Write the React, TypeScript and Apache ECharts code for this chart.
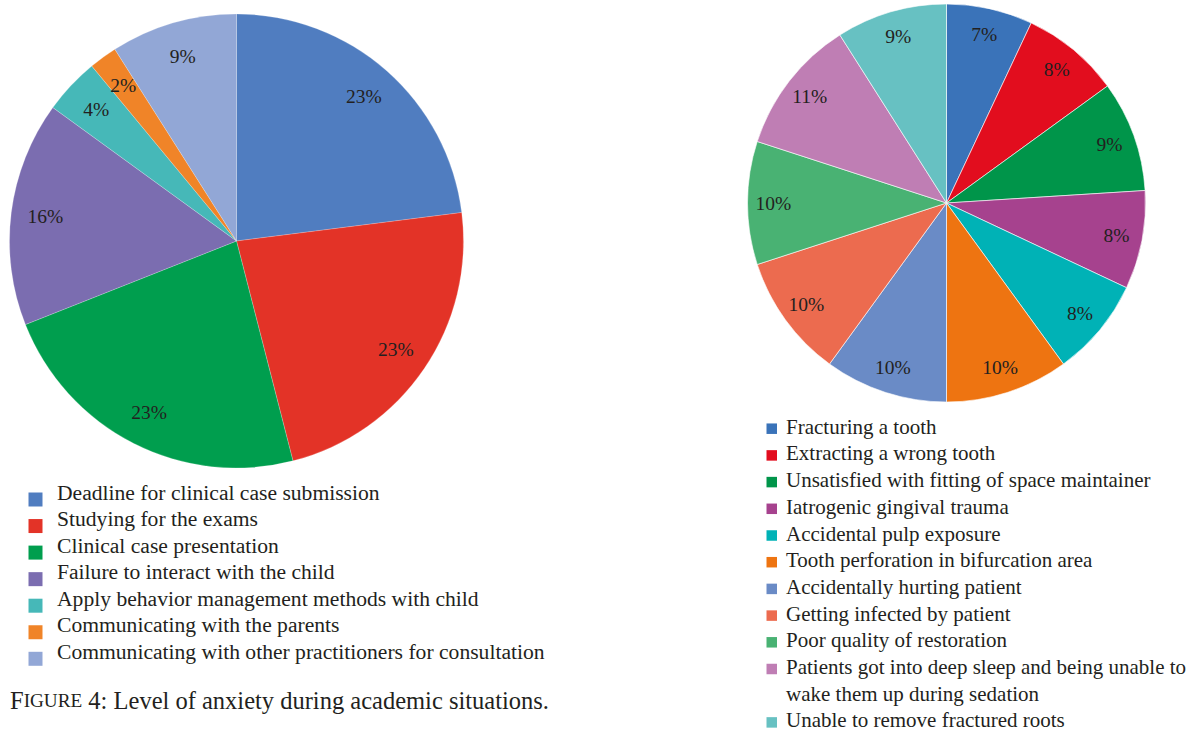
import React, { useEffect, useRef } from "react";
import * as echarts from "echarts";

// Figure 4: academic situations
const academicCategories = [
  "Deadline for clinical case submission",
  "Studying for the exams",
  "Clinical case presentation",
  "Failure to interact with the child",
  "Apply behavior management methods with child",
  "Communicating with the parents",
  "Communicating with other practitioners for consultation",
];
const academicValues = [23, 23, 23, 16, 4, 2, 9];
const academicColors = ["#507dc0", "#e33327", "#009e4e", "#7b6db0", "#46b8b8", "#f08428", "#92a7d6"];

// Clinical situations
const clinicalCategories = [
  "Fracturing a tooth",
  "Extracting a wrong tooth",
  "Unsatisfied with fitting of space maintainer",
  "Iatrogenic gingival trauma",
  "Accidental pulp exposure",
  "Tooth perforation in bifurcation area",
  "Accidentally hurting patient",
  "Getting infected by patient",
  "Poor quality of restoration",
  "Patients got into deep sleep and being unable to\nwake them up during sedation",
  "Unable to remove fractured roots",
];
const clinicalValues = [7, 8, 9, 8, 8, 10, 10, 10, 10, 11, 9];
const clinicalColors = [
  "#3a73b9", "#e20d1e", "#00954a", "#a6428e", "#00b2b6", "#ee7411",
  "#6a8bc6", "#ec6b4f", "#49b273", "#bf7eb4", "#67c1c2",
];

const captionPrefix = "F";
const captionSmallCaps = "IGURE";
const captionRest = " 4: Level of anxiety during academic situations.";

const FONT = '"Liberation Serif", "DejaVu Serif", serif';
const INK = "#231f20";

type LegendLayout = {
  textX: number;
  markerX: number;
  markerSize: number;
  markerDy: number;
  firstY: number;
  step: number;
  fontSize: number;
};

function legendGraphics(names: string[], colors: string[], L: LegendLayout) {
  const out: any[] = [];
  let row = 0;
  names.forEach((name, i) => {
    const lines = name.split("\n").length;
    const cy = L.firstY + row * L.step;
    out.push({
      type: "rect",
      shape: {
        x: L.markerX,
        y: cy + L.markerDy - L.markerSize / 2,
        width: L.markerSize,
        height: L.markerSize,
      },
      style: { fill: colors[i] },
      silent: true,
    });
    out.push({
      type: "text",
      x: L.textX,
      y: cy + ((lines - 1) * L.step) / 2,
      style: {
        text: name,
        fontFamily: FONT,
        fontSize: L.fontSize,
        lineHeight: lines > 1 ? L.step : L.fontSize,
        fill: INK,
        verticalAlign: "middle",
        align: "left",
      },
      silent: true,
    });
    row += lines;
  });
  return out;
}

function pieWithLabels(
  id: string,
  names: string[],
  values: number[],
  colors: string[],
  center: [number, number],
  radius: number,
  labelInner: number,
  border: any
) {
  const data = values.map((v, i) => ({ name: names[i], value: v, itemStyle: { color: colors[i] } }));
  return [
    {
      id: id,
      type: "pie",
      center,
      radius: [0, radius],
      startAngle: 90,
      clockwise: true,
      label: { show: false },
      labelLine: { show: false },
      itemStyle: border,
      emphasis: { disabled: true },
      data,
    },
    {
      // transparent ring that carries the percentage labels near the rim
      id: id + "-labels",
      type: "pie",
      center,
      radius: [radius * labelInner, radius],
      startAngle: 90,
      clockwise: true,
      silent: true,
      avoidLabelOverlap: false,
      itemStyle: { color: "transparent", borderWidth: 0 },
      label: {
        show: true,
        position: "inside",
        formatter: "{c}%",
        fontFamily: FONT,
        fontSize: 19.5,
        color: INK,
      },
      labelLine: { show: false },
      labelLayout: { hideOverlap: false },
      emphasis: { disabled: true },
      data: values.map((v, i) => ({ name: names[i], value: v })),
    },
  ];
}

export default function App() {
  const ref = useRef<HTMLDivElement>(null);

  useEffect(() => {
    if (!ref.current) return;
    const chart = echarts.init(ref.current, null, { renderer: "svg" });

    const graphics = [
      ...legendGraphics(academicCategories, academicColors, {
        textX: 57,
        markerX: 28.5,
        markerSize: 14,
        markerDy: 7,
        firstY: 492.5,
        step: 26.55,
        fontSize: 21.6,
      }),
      ...legendGraphics(clinicalCategories, clinicalColors, {
        textX: 786,
        markerX: 766.5,
        markerSize: 10.5,
        markerDy: 2,
        firstY: 426.7,
        step: 26.7,
        fontSize: 21,
      }),
      {
        type: "text",
        x: 10,
        y: 700,
        style: {
          text: `{a|${captionPrefix}}{b|${captionSmallCaps}}{a|${captionRest}}`,
          rich: {
            a: { fontFamily: FONT, fontSize: 24.5, fill: INK, color: INK },
            b: { fontFamily: FONT, fontSize: 19.2, fill: INK, color: INK },
          },
          verticalAlign: "middle",
          align: "left",
        },
        silent: true,
      },
    ];

    chart.setOption({
      animation: false,
      backgroundColor: "#ffffff",
      series: [
        ...pieWithLabels("academic", academicCategories, academicValues, academicColors, [236.5, 241], 227, 0.67, {
          borderWidth: 0.6,
          borderColor: "rgba(255,255,255,0.35)",
        }),
        ...pieWithLabels("clinical", clinicalCategories, clinicalValues, clinicalColors, [946.5, 203], 199, 0.71, {
          borderWidth: 0.8,
          borderColor: "rgba(255,255,255,0.75)",
        }),
      ],
      graphic: graphics,
    });

    return () => chart.dispose();
  }, []);

  return (
    <div
      ref={ref}
      style={{ position: "fixed", left: 0, top: 0, width: 1193, height: 731, background: "#fff" }}
    />
  );
}
